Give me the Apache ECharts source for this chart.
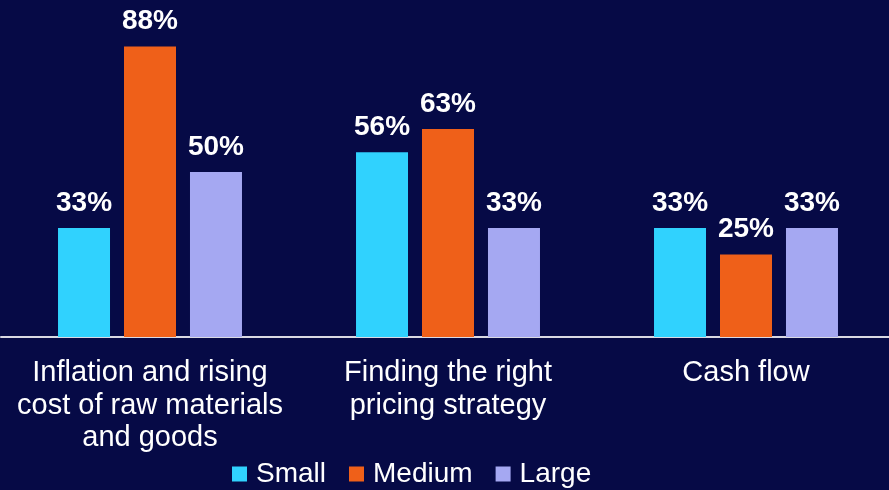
<!DOCTYPE html>
<html>
<head>
<meta charset="utf-8">
<script src="https://cdn.jsdelivr.net/npm/echarts@6/dist/echarts.min.js"></script>
<style>
  html, body { margin: 0; padding: 0; background: #060a46; overflow: hidden; }
  /* canvas is a little wider than the window so the last group keeps even spacing */
  #chart { width: 900px; height: 490px; }
</style>
</head>
<body>
<div id="chart"></div>
<script>
// Challenge categories and share of respondents (%) by business size
const categories = [
  'Inflation and rising\ncost of raw materials\nand goods',
  'Finding the right\npricing strategy',
  'Cash flow'
];
const seriesNames = ['Small', 'Medium', 'Large'];
const smallValues = [33, 56, 33];
const mediumValues = [88, 63, 25];
const largeValues = [50, 33, 33];

const colors = ['#30d2fe', '#ef6019', '#a5a8f2'];
const fontFamily = '"Liberation Sans", Arial, sans-serif';

const valueLabel = {
  show: true,
  position: 'top',
  distance: 11,
  color: '#ffffff',
  fontWeight: 'bold',
  fontSize: 28,
  fontFamily: fontFamily,
  formatter: p => p.value + '%'
};

function makeSeries(name, values, color) {
  return {
    name: name,
    type: 'bar',
    data: values,
    barWidth: 52,
    barGap: '26.9%',
    itemStyle: { color: color },
    label: valueLabel
  };
}

const chart = echarts.init(document.getElementById('chart'), null, { renderer: 'canvas' });
chart.setOption({
  backgroundColor: '#060a46',
  animation: false,
  color: colors,
  grid: { left: 1, width: 894, top: 7, bottom: 153, containLabel: false },
  legend: {
    data: seriesNames,
    left: 232,
    top: 460,
    padding: 0,
    icon: 'rect',
    itemWidth: 15,
    itemHeight: 15,
    itemGap: 23,
    textStyle: {
      color: '#ffffff',
      fontSize: 28,
      fontFamily: fontFamily,
      padding: [0, 0, 0, 4]
    }
  },
  xAxis: {
    type: 'category',
    data: categories,
    axisLine: { show: true, lineStyle: { color: '#d9d9e3', width: 2 } },
    axisTick: { show: false },
    axisLabel: {
      color: '#ffffff',
      fontSize: 29,
      fontFamily: fontFamily,
      lineHeight: 32.5,
      margin: 20,
      interval: 0
    }
  },
  yAxis: {
    type: 'value',
    min: 0,
    max: 100,
    show: false,
    splitLine: { show: false }
  },
  series: [
    makeSeries(seriesNames[0], smallValues, colors[0]),
    makeSeries(seriesNames[1], mediumValues, colors[1]),
    makeSeries(seriesNames[2], largeValues, colors[2])
  ]
});
</script>
</body>
</html>
